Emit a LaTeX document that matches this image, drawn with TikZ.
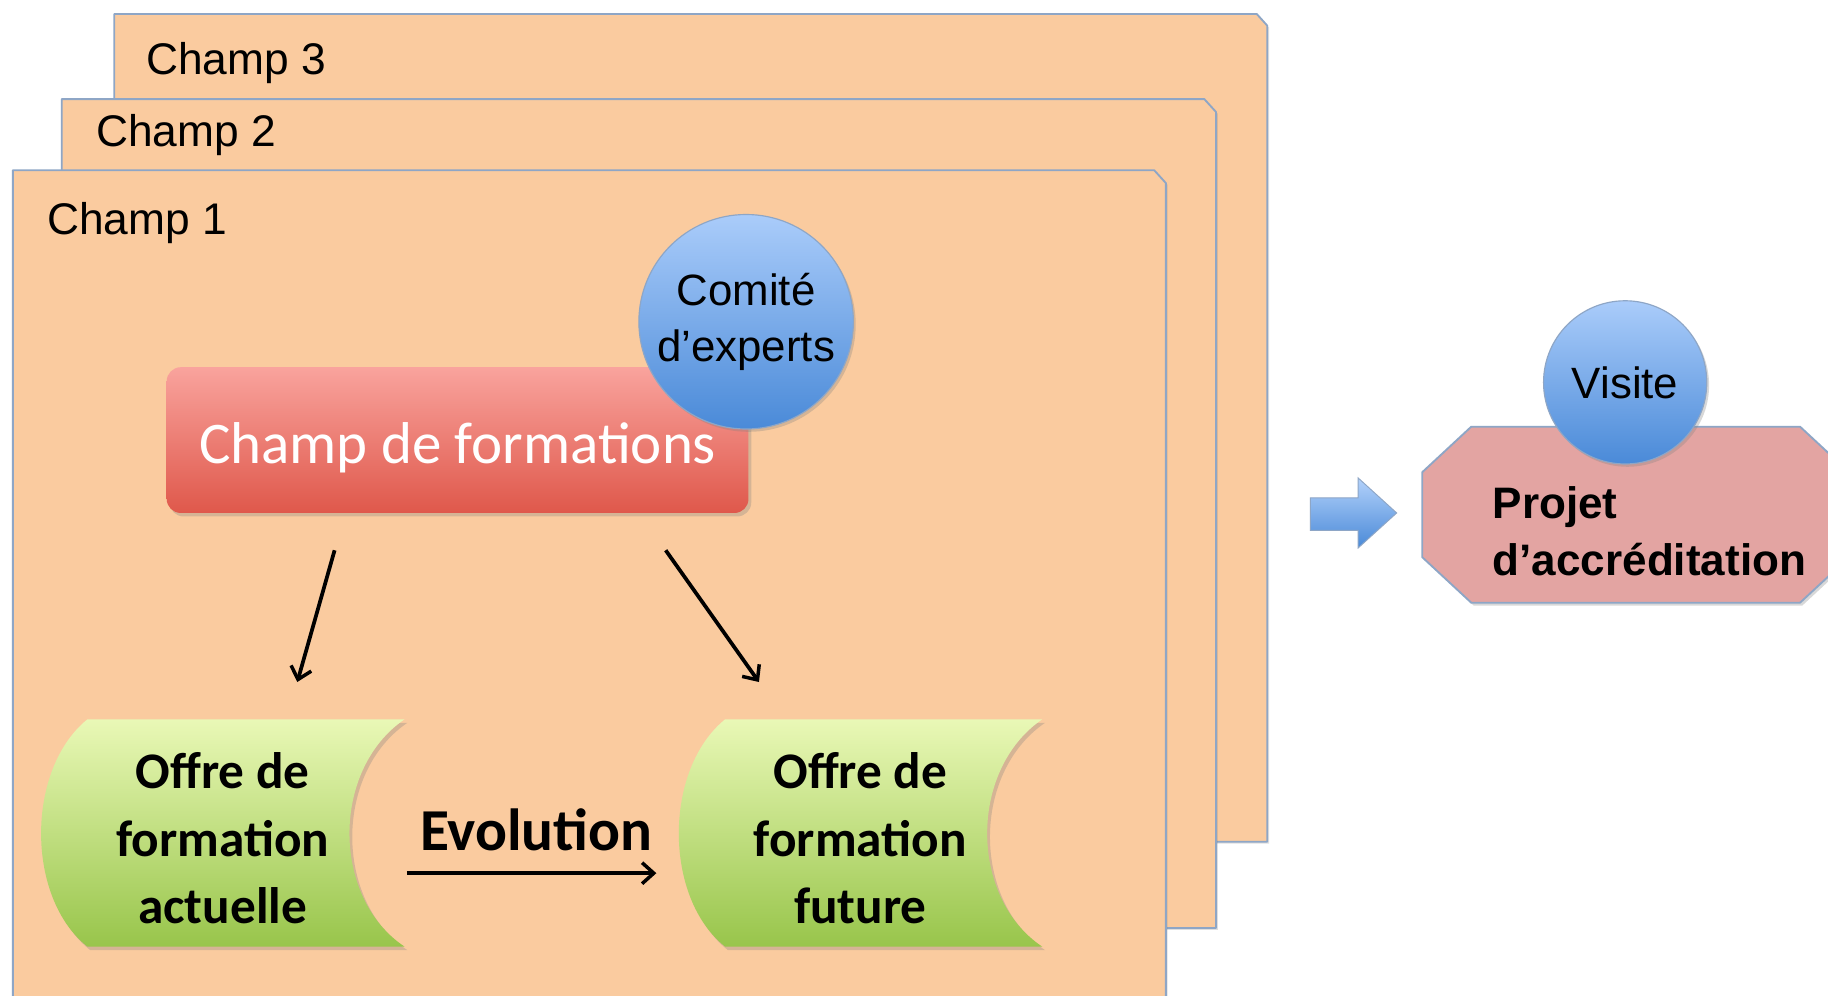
\documentclass[tikz,border=0pt]{standalone}
\usepackage{fontspec}
\setmainfont{Liberation Sans}
\newfontfamily\calfont{Carlito}
\usetikzlibrary{arrows.meta,shadows,calc}
\definecolor{peach}{HTML}{FACB9F}
\definecolor{bordc}{HTML}{8EA6C6}
\definecolor{redtop}{HTML}{F9A39D}
\definecolor{redbot}{HTML}{DF584B}
\definecolor{bluetop}{HTML}{AACCFA}
\definecolor{bluebot}{HTML}{4A8AD8}
\definecolor{greentop}{HTML}{E9F8B6}
\definecolor{greenbot}{HTML}{98C54B}
\definecolor{octfill}{HTML}{E3A4A2}
\tikzset{
  champbox/.style={fill=peach, draw=bordc, line width=0.8pt, line join=round,
    drop shadow={shadow xshift=0.8pt, shadow yshift=-0.8pt, opacity=0.25}},
  champlabel/.style={anchor=west, font=\fontsize{19}{22}\selectfont, inner sep=0pt},
  bubble/.style={circle, draw=bordc, line width=0.5pt, top color=bluetop, bottom color=bluebot,
    font=\fontsize{18.8}{24}\selectfont, align=center, inner sep=0pt,
    drop shadow={shadow xshift=1pt, shadow yshift=-1.2pt, opacity=0.3}},
  storeshape/.style={top color=greentop, bottom color=greenbot, draw=none,
    drop shadow={shadow xshift=1.2pt, shadow yshift=-1.5pt, opacity=0.3}},
  storetext/.style={font=\calfont\bfseries\fontsize{22}{29}\selectfont, align=center, inner sep=0pt},
  flowarrow/.style={-{Straight Barb[length=5pt,width=9pt,line width=1.5pt]}, line width=1.6pt, black},
}
\begin{document}
\begin{tikzpicture}[x=0.5pt, y=-0.5pt]
\path[use as bounding box, fill=white] (0,0) rectangle (1568,854);
\begin{scope}
\clip (0,0) rectangle (1568,854);
% stacked fields
\path[champbox] (98,722) -- (98,12) -- (1078,12) -- (1087,22) -- (1087,722) -- cycle;
\node[champlabel] (c3) at (125,54) {Champ 3};
\path[champbox] (53,796) -- (53,85) -- (1033,85) -- (1043,96) -- (1043,796) -- cycle;
\node[champlabel] (c2) at (82,116) {Champ 2};
\path[champbox] (11,900) -- (11,146) -- (990,146) -- (1000,157) -- (1000,900) -- cycle;
\node[champlabel] (c1) at (40,191) {Champ 1};

% Champ de formations
\node[rounded corners=6pt, minimum width=249.5pt, minimum height=62.5pt,
  top color=redtop, bottom color=redbot, draw=none,
  drop shadow={shadow xshift=1.2pt, shadow yshift=-1.5pt, opacity=0.3}] (cf) at (392.5,377.5) {};
\node[font=\calfont\fontsize{25.3}{30}\selectfont, text=white, inner sep=0pt] (cft) at (392.5,384) {Champ de formations};
\node[bubble, minimum size=92pt] (ce) at (640,276) {Comité\\d’experts};

% green stored-data shapes
\path[storeshape] (75,617) -- (347,617) .. controls (284,660) and (284,770) .. (347,812)
  -- (75,812) .. controls (22,770) and (22,660) .. (75,617) -- cycle;
\node[storetext] (oa) at (191,719) {Offre de\\formation\\actuelle};
\path[storeshape] (622,617) -- (894,617) .. controls (831,660) and (831,770) .. (894,812)
  -- (622,812) .. controls (569,770) and (569,660) .. (622,617) -- cycle;
\node[storetext] (of) at (738,719) {Offre de\\formation\\future};

% arrows
\coordinate (a1s) at (287,472);
\coordinate (a1e) at (255,585);
\coordinate (a2s) at (571,472);
\coordinate (a2e) at (651,585);
\draw[flowarrow] (a1s) -- (a1e);
\draw[flowarrow] (a2s) -- (a2e);
\coordinate (evs) at (349,749);
\coordinate (eve) at (563,749);
\draw[flowarrow] (evs) -- (eve);
\node[font=\calfont\bfseries\fontsize{25.5}{30}\selectfont, inner sep=0pt] (ev) at (460,712) {Evolution};

% block arrow
\shade[top color=bluetop!90, bottom color=bluebot, draw=bordc, line width=0.4pt]
  (1124,427) -- (1165,427) -- (1165,410) -- (1198,440) -- (1165,470) -- (1165,455) -- (1124,455) -- cycle;

% octagon
\path[fill=octfill, draw=bordc, line width=0.8pt, line join=round,
  drop shadow={shadow xshift=1pt, shadow yshift=-1.2pt, opacity=0.3}]
  (1262,366) -- (1544,366) -- (1586,405) -- (1586,478) -- (1544,517) -- (1262,517)
  -- (1220,478) -- (1220,405) -- cycle;
\node[anchor=west, align=left, inner sep=0pt,
  font=\bfseries\fontsize{18.9}{24.5}\selectfont] (pa) at (1280,456) {Projet\\d’accréditation};
\node[bubble, minimum size=70pt] (vi) at (1394,328) {Visite};
\end{scope}
\end{tikzpicture}
\end{document}
